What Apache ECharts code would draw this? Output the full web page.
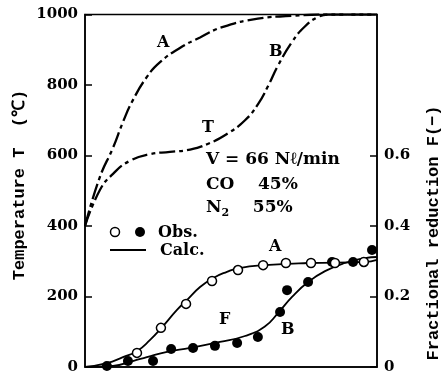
<!DOCTYPE html>
<html>
<head>
<meta charset="utf-8">
<script src="https://cdn.jsdelivr.net/npm/echarts@6/dist/echarts.min.js"></script>
<style>
  html, body { margin: 0; padding: 0; background: #fff; }
  #chart { width: 443px; height: 378px; }
</style>
</head>
<body>
<div id="chart"></div>
<script>
// temperature curves (left axis), x is a relative position 0..100
const tempAx = [0, 5.1, 9.6, 13, 16.4, 21.2, 25.7, 32.5, 39.4, 47.3, 59.2, 70.9, 82.2, 100]
const tempA = [400, 539, 622, 695, 757, 823, 865, 905, 935, 965, 988, 996, 1000, 1000]
const tempBx = [0, 5.1, 9.6, 15.4, 22.3, 29.1, 36, 41.8, 48.6, 54.8, 59.2, 62.7, 66.1, 70.9, 75.3, 79.8, 83.2, 100]
const tempB = [400, 502, 548, 585, 604, 610, 617, 632, 661, 700, 745, 797, 855, 922, 966, 993, 1000, 1000]

// fractional reduction, calculated (right axis)
const calcAx = [0, 7.5, 13, 17.8, 22.3, 26.4, 31.5, 34.9, 39.4, 43.8, 48.6, 52.4, 61.6, 76.4, 95.9, 100]
const calcA = [0, 0.011, 0.028, 0.045, 0.077, 0.113, 0.162, 0.19, 0.227, 0.252, 0.27, 0.28, 0.289, 0.295, 0.298, 0.304]
const calcBx = [0, 9.6, 16.4, 21.2, 28.1, 36, 46.2, 54.8, 61.6, 66.1, 70.9, 76.4, 82.2, 89, 95.9, 100]
const calcB = [0, 0.003, 0.017, 0.028, 0.043, 0.054, 0.071, 0.088, 0.115, 0.153, 0.199, 0.241, 0.272, 0.295, 0.309, 0.312]

// fractional reduction, observed
const obsAx = [17.8, 26, 34.6, 43.5, 52.4, 61, 68.8, 77.4, 85.6, 95.5]
const obsA = [0.04, 0.111, 0.179, 0.244, 0.275, 0.289, 0.295, 0.295, 0.295, 0.298]
const obsBx = [7.5, 14.7, 23.3, 29.5, 37, 44.5, 52.1, 59.2, 66.8, 69.2, 76.4, 84.6, 91.8, 98.3]
const obsB = [0.003, 0.017, 0.017, 0.051, 0.054, 0.06, 0.068, 0.085, 0.156, 0.218, 0.241, 0.298, 0.298, 0.332]

const leftTicks = [0, 200, 400, 600, 800, 1000]
const rightTicks = [0, 0.2, 0.4, 0.6]

const pairs = (xs, ys) => xs.map((x, i) => [x, ys[i]])

const chart = echarts.init(document.getElementById('chart'))

const serif = 'DejaVu Serif'
const labelText = (x, y, text, size) => ({
  type: 'text',
  x: x,
  y: y,
  style: {
    text: text,
    fill: '#000',
    font: 'bold ' + (size || 16) + 'px "' + serif + '"',
    textVerticalAlign: 'middle'
  }
})

const option = {
  backgroundColor: '#fff',
  animation: false,
  grid: {
    left: 85,
    right: 66,
    top: 14.5,
    bottom: 11,
    show: true,
    borderColor: '#000',
    borderWidth: 1.5
  },
  xAxis: {
    type: 'value',
    min: 0,
    max: 100,
    axisLine: { show: true, lineStyle: { color: '#000', width: 1.5 } },
    axisTick: { show: false },
    axisLabel: { show: false },
    splitLine: { show: false }
  },
  yAxis: [
    {
      type: 'value',
      position: 'left',
      min: 0,
      max: 1000,
      interval: 200,
      axisLine: { show: true, lineStyle: { color: '#000', width: 1.5 } },
      axisTick: { show: true, inside: true, length: 7, lineStyle: { color: '#000', width: 1.5 }, customValues: leftTicks },
      axisLabel: {
        color: '#000',
        fontFamily: serif,
        fontWeight: 'bold',
        fontSize: 15,
        margin: 7,
        customValues: leftTicks,
        formatter: v => String(v)
      },
      splitLine: { show: false }
    },
    {
      type: 'value',
      position: 'right',
      min: 0,
      max: 1,
      interval: 0.2,
      axisLine: { show: true, lineStyle: { color: '#000', width: 1.5 } },
      axisTick: { show: true, inside: true, length: 7, lineStyle: { color: '#000', width: 1.5 }, customValues: rightTicks },
      axisLabel: {
        color: '#000',
        fontFamily: serif,
        fontWeight: 'bold',
        fontSize: 15,
        margin: 7,
        customValues: rightTicks,
        formatter: v => (v === 0 ? '0' : v.toFixed(1))
      },
      splitLine: { show: false }
    }
  ],
  graphic: [
    {
      type: 'text',
      x: 20,
      y: 185,
      rotation: Math.PI / 2,
      style: {
        text: 'Temperature T  (℃)',
        fill: '#000',
        font: 'bold 17px "Liberation Mono"',
        textAlign: 'center',
        textVerticalAlign: 'middle'
      }
    },
    {
      type: 'text',
      x: 434,
      y: 233,
      rotation: Math.PI / 2,
      style: {
        text: 'Fractional reduction F(−)',
        fill: '#000',
        font: 'bold 17px "Liberation Mono"',
        textAlign: 'center',
        textVerticalAlign: 'middle'
      }
    },
    labelText(157, 43, 'A'),
    labelText(269, 52, 'B'),
    labelText(202, 128, 'T'),
    labelText(269, 247, 'A'),
    labelText(219, 320, 'F'),
    labelText(281, 330, 'B'),
    labelText(206, 160, 'V = 66 Nℓ/min', 17),
    labelText(206, 185, 'CO    45%', 17),
    {
      type: 'text',
      x: 206,
      y: 208,
      style: {
        text: 'N{s|2}    55%',
        fill: '#000',
        font: 'bold 17px "' + serif + '"',
        textVerticalAlign: 'middle',
        rich: {
          s: { font: 'bold 11px "' + serif + '"', fill: '#000', padding: [10, 0, 0, 0] }
        }
      }
    },
    {
      type: 'circle',
      shape: { cx: 115, cy: 232, r: 4.5 },
      style: { fill: '#fff', stroke: '#000', lineWidth: 1.5 }
    },
    {
      type: 'circle',
      shape: { cx: 140, cy: 232, r: 5 },
      style: { fill: '#000' }
    },
    labelText(158, 233, 'Obs.', 16),
    {
      type: 'line',
      shape: { x1: 110, y1: 250, x2: 146, y2: 250 },
      style: { stroke: '#000', lineWidth: 2 }
    },
    labelText(160, 251, 'Calc.', 16)
  ],
  series: [
    {
      name: 'T A',
      type: 'line',
      smooth: 0.5,
      symbol: 'none',
      lineStyle: { color: '#000', width: 2.3, type: [16, 4, 4, 4] },
      data: pairs(tempAx, tempA)
    },
    {
      name: 'T B',
      type: 'line',
      smooth: 0.5,
      symbol: 'none',
      lineStyle: { color: '#000', width: 2.3, type: [16, 4, 4, 4] },
      data: pairs(tempBx, tempB)
    },
    {
      name: 'Calc A',
      type: 'line',
      yAxisIndex: 1,
      smooth: 0.5,
      symbol: 'none',
      lineStyle: { color: '#000', width: 1.8 },
      data: pairs(calcAx, calcA)
    },
    {
      name: 'Calc B',
      type: 'line',
      yAxisIndex: 1,
      smooth: 0.5,
      symbol: 'none',
      lineStyle: { color: '#000', width: 1.8 },
      data: pairs(calcBx, calcB)
    },
    {
      name: 'Obs B',
      type: 'scatter',
      yAxisIndex: 1,
      symbol: 'circle',
      symbolSize: 10,
      itemStyle: { color: '#000', opacity: 1 },
      data: pairs(obsBx, obsB),
      z: 4
    },
    {
      name: 'Obs A',
      type: 'scatter',
      yAxisIndex: 1,
      symbol: 'circle',
      symbolSize: 9,
      itemStyle: { color: '#fff', borderColor: '#000', borderWidth: 1.5, opacity: 1 },
      data: pairs(obsAx, obsA),
      z: 5
    }
  ]
}

chart && chart.setOption(option)
</script>
</body>
</html>
